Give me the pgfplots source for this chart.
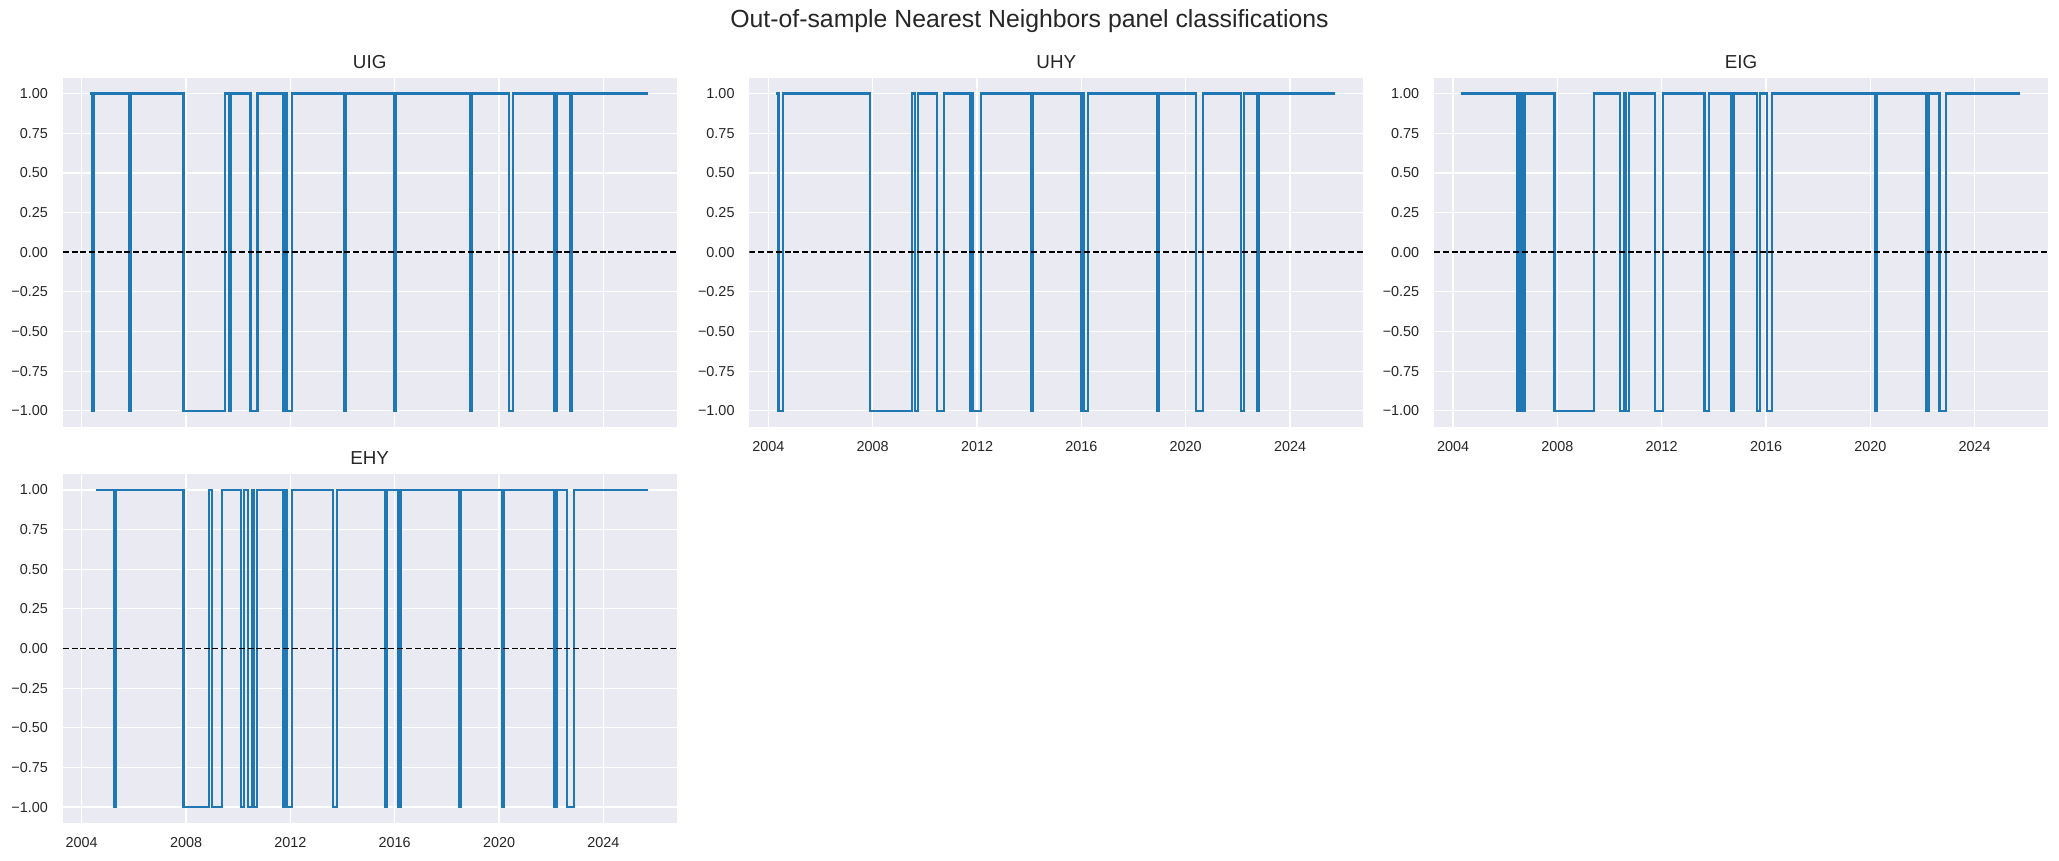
\documentclass[border=0pt]{standalone}
\usepackage{fontspec}
\setmainfont{Liberation Sans}
\usepackage{pgfplots}
\pgfplotsset{compat=1.18}
\definecolor{bgc}{HTML}{EAEAF2}
\definecolor{txt}{HTML}{262626}
\definecolor{mplblue}{HTML}{1F77B4}

\pgfplotsset{panel/.style={
  scale only axis, width=307pt, height=174.5pt,
  xmin=2003.27, xmax=2026.81, ymin=-1.1, ymax=1.1,
  axis background/.style={fill=bgc},
  axis line style={draw=none},
  major tick length=0pt,
  grid=major, major grid style={white, line width=0.65pt},
  xtick={2004,2008,2012,2016,2020,2024},
  xticklabels={2004,2008,2012,2016,2020,2024},
  ytick={-1,-0.75,-0.5,-0.25,0,0.25,0.5,0.75,1},
  yticklabels={−1.00,−0.75,−0.50,−0.25,0.00,0.25,0.50,0.75,1.00},
  tick label style={font=\fontsize{7.2}{8}\selectfont, text=txt},
  yticklabel style={inner sep=0pt, xshift=-7.2pt},
  xticklabel style={inner sep=0pt, yshift=-7.2pt},
  every axis title/.style={at={(0.5,1)}, anchor=base, yshift=4.7pt, font=\fontsize{9.4}{11}\selectfont, text=txt},
},
sig/.style={const plot, mplblue, line width=1.05pt, no markers},
zl/.style={black, dash pattern=on 3pt off 1.4pt, line width=0.95pt, no markers}
}

\pgfplotstableread{
x y
2004.30 1
2004.40 -1
2004.48 1
2005.82 -1
2005.90 1
2007.90 -1
2009.50 1
2009.63 -1
2009.71 1
2010.47 -1
2010.74 1
2011.73 -1
2011.80 1
2011.87 -1
2012.07 1
2014.07 -1
2014.13 1
2015.98 -1
2016.05 1
2018.89 -1
2018.96 1
2020.37 -1
2020.55 1
2022.12 -1
2022.20 1
2022.71 -1
2022.79 1
2025.70 1
}\uig

\pgfplotstableread{
x y
2004.30 1
2004.39 -1
2004.56 1
2007.89 -1
2009.49 1
2009.62 -1
2009.72 1
2010.48 -1
2010.73 1
2011.73 -1
2011.79 1
2011.86 -1
2012.15 1
2014.08 -1
2014.15 1
2015.97 -1
2016.04 1
2016.10 -1
2016.24 1
2018.92 -1
2018.98 1
2020.40 -1
2020.67 1
2022.13 -1
2022.23 1
2022.72 -1
2022.82 1
2025.73 1
}\uhy

\pgfplotstableread{
x y
2004.30 1
2006.47 -1
2006.55 1
2006.63 -1
2006.74 1
2007.89 -1
2009.40 1
2010.39 -1
2010.56 1
2010.63 -1
2010.75 1
2011.74 -1
2012.06 1
2013.64 -1
2013.82 1
2014.65 -1
2014.75 1
2015.64 -1
2015.76 1
2016.04 -1
2016.23 1
2020.16 -1
2020.25 1
2022.15 -1
2022.23 1
2022.65 -1
2022.91 1
2025.75 1
}\eig

\pgfplotstableread{
x y
2004.55 1
2005.23 -1
2005.33 1
2007.90 -1
2008.89 1
2008.99 -1
2009.39 1
2010.12 -1
2010.22 1
2010.39 -1
2010.54 1
2010.61 -1
2010.71 1
2011.71 -1
2011.80 1
2011.87 -1
2012.07 1
2013.63 -1
2013.80 1
2015.61 -1
2015.71 1
2016.12 -1
2016.22 1
2018.45 -1
2018.54 1
2020.10 -1
2020.20 1
2022.10 -1
2022.20 1
2022.62 -1
2022.87 1
2025.70 1
}\ehy

\begin{document}
\begin{tikzpicture}
\path[use as bounding box] (0,0) rectangle (1029.5pt,430.5pt);

\begin{axis}[panel, at={(31.35pt,391.65pt)}, anchor=north west, title={UIG}, xticklabels={}]
\addplot[sig] table[x=x,y=y] {\uig};
\addplot[zl] coordinates {(2003.27,0) (2026.81,0)};
\end{axis}

\begin{axis}[panel, at={(374.65pt,391.65pt)}, anchor=north west, title={UHY}]
\addplot[sig] table[x=x,y=y] {\uhy};
\addplot[zl] coordinates {(2003.27,0) (2026.81,0)};
\end{axis}

\begin{axis}[panel, at={(717pt,391.65pt)}, anchor=north west, title={EIG}]
\addplot[sig] table[x=x,y=y] {\eig};
\addplot[zl] coordinates {(2003.27,0) (2026.81,0)};
\end{axis}

\begin{axis}[panel, at={(31.35pt,193.5pt)}, anchor=north west, title={EHY}]
\addplot[sig] table[x=x,y=y] {\ehy};
\addplot[zl] coordinates {(2003.27,0) (2026.81,0)};
\end{axis}

\node[anchor=base, font=\fontsize{12.4}{14}\selectfont, text=txt] at (514.75pt,416.5pt) {Out-of-sample Nearest Neighbors panel classifications};
\end{tikzpicture}
\end{document}
